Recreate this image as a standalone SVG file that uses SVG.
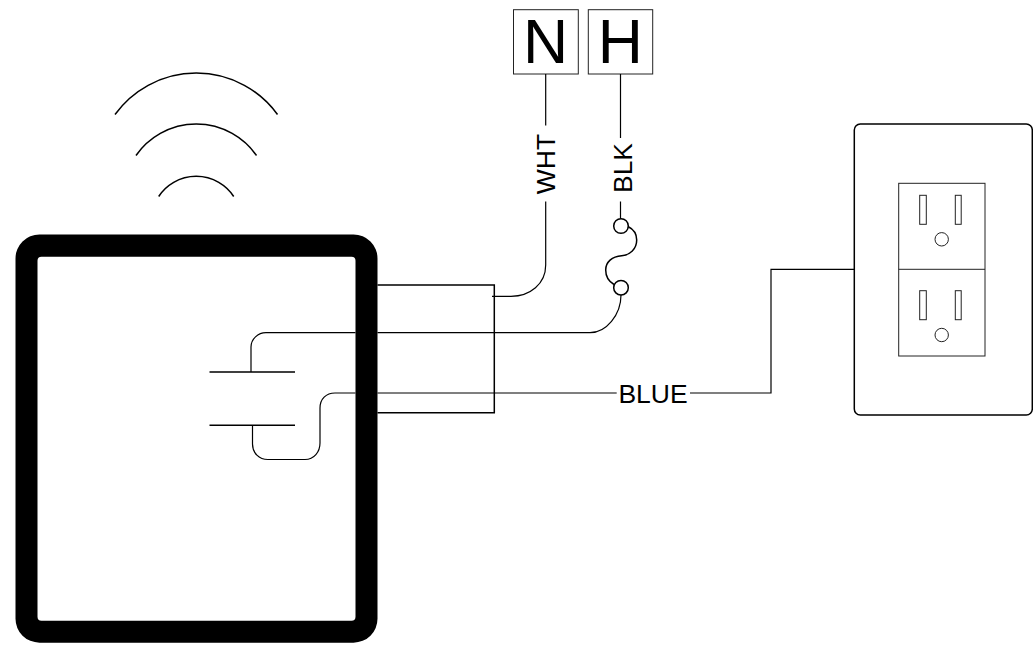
<svg xmlns="http://www.w3.org/2000/svg" width="1033" height="648" viewBox="0 0 1033 648">
<style>
text{font-family:"Liberation Sans",Arial,sans-serif;fill:#000}
.w{fill:none;stroke:#000;stroke-width:1.2}
.b{fill:none;stroke:#000;stroke-width:1.5}
.s{fill:none;stroke:#222;stroke-width:1}
.t{fill:#fff;stroke:#222;stroke-width:1}
.l{font-size:26.5px;text-anchor:middle}
.c{font-size:62.5px;text-anchor:middle}
</style>
<rect width="1033" height="648" fill="#fff"/>
<g id="device">
<path fill="#000" fill-rule="evenodd" d="M39.5 234.5H353.5A24 24 0 0 1 377.5 258.5V618.7A24 24 0 0 1 353.5 642.7H39.5A24 24 0 0 1 15.5 618.7V258.5A24 24 0 0 1 39.5 234.5ZM41.5 256.7A4 4 0 0 0 37.5 260.7V616.7A4 4 0 0 0 41.5 620.7H351.5A4 4 0 0 0 355.5 616.7V260.7A4 4 0 0 0 351.5 256.7Z"/>
</g>
<g id="waves">
<path class="b" d="M115 114.5A100.3 100.3 0 0 1 277.5 114.5"/>
<path class="b" d="M136 155.5A73.4 73.4 0 0 1 256.5 155.5"/>
<path class="b" d="M158.7 196.5A45 45 0 0 1 233.7 196.5"/>
</g>
<g id="junction-box"><path class="b" d="M377.5 285H494.3V412.7H377.5"/></g>
<g id="capacitor"><path class="b" d="M209.5 372H295M209.5 425.3H295"/></g>
<g id="neutral"><rect class="t" x="513.5" y="9.7" width="64.8" height="64.3"/><text class="c" x="545.5" y="63">N</text></g>
<g id="hot"><rect class="t" x="588.3" y="9.7" width="64.4" height="64.3"/><text class="c" x="620.3" y="63">H</text></g>
<g id="fuse">
<circle class="b" cx="621" cy="226" r="7.3"/>
<circle class="b" cx="621" cy="287.7" r="7.3"/>
<path class="b" d="M628 226.5C633 229 636.7 234 636.7 240C636.7 249 630 255 621.7 255.7C612 256.5 605.7 262 605.7 270C605.7 276 608 281 614 284.5"/>
</g>
<g id="outlet">
<rect class="b" x="854.3" y="124" width="178" height="291" rx="6" fill="#fff"/>
<rect class="s" x="898.7" y="183.3" width="86.3" height="172.7"/>
<path class="s" d="M898.7 269.3H985"/>
<rect class="s" x="919.7" y="195.3" width="6.6" height="29"/>
<rect class="s" x="955.3" y="195.3" width="5.9" height="29"/>
<circle class="s" cx="941.7" cy="239.3" r="6.7"/>
<rect class="s" x="919.7" y="290.7" width="6.6" height="29"/>
<rect class="s" x="955.3" y="290.7" width="5.9" height="29"/>
<circle class="s" cx="941.7" cy="335" r="6.7"/>
</g>
<g id="connectors">
<path class="w" d="M545.7 74V125.5M545.7 201.5V265C545.7 284 530 296.3 511 296.3H492"/>
<path class="w" d="M620.5 74V138M620.5 201.5V218.5"/>
<path class="w" d="M251 372V347C251 339 258 332.7 266 332.7H355.5M377.5 332.7H590C606 332.7 621 315 621 295"/>
<path class="w" d="M252.5 425.3V444C252.5 453 259 459.5 268 459.5H305C314 459.5 320 452 320 443V408C320 399 326 393 335 393H355.5M377.5 393H616.7M690 393H771V269.3H854.3"/>
</g>
<g id="labels">
<text class="l" transform="translate(555 164) rotate(-90)">WHT</text>
<text class="l" transform="translate(631.7 168) rotate(-90)">BLK</text>
<text class="l" x="653" y="403">BLUE</text>
</g>
</svg>
